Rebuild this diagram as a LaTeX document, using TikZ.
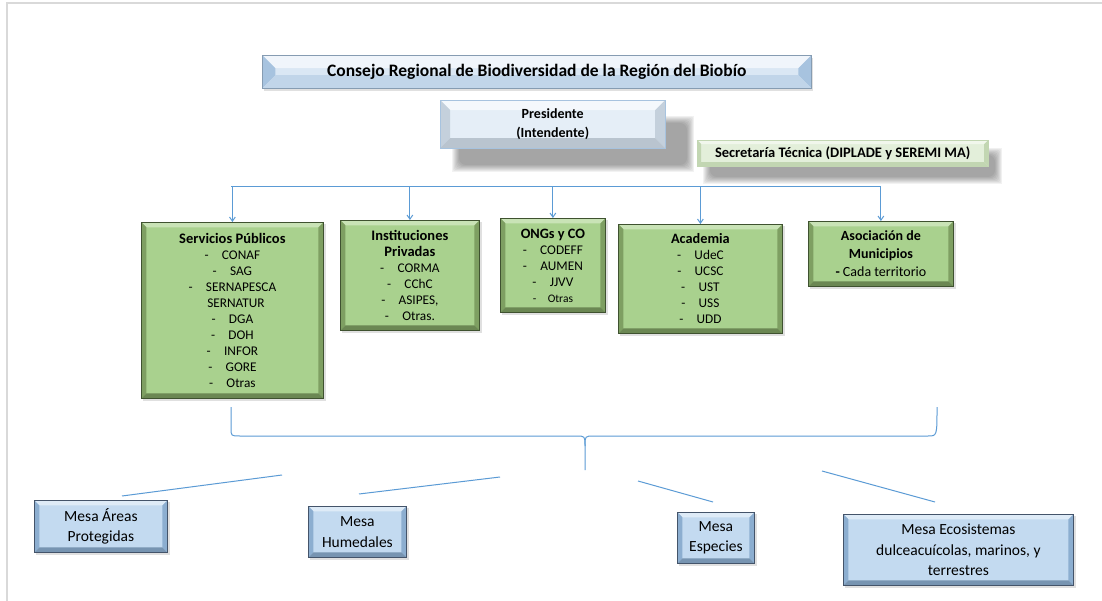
\documentclass[tikz,border=0pt]{standalone}
\usepackage{fontspec}
\setmainfont{Carlito}
\usetikzlibrary{arrows.meta,calc}
\definecolor{ln}{HTML}{5B9BD5}
\definecolor{gfill}{HTML}{A9D18E}
\definecolor{glight}{HTML}{C9E3B6}
\definecolor{gdark}{HTML}{7E9F62}
\definecolor{gborder}{HTML}{3F5230}
\definecolor{bfill}{HTML}{C3DAF0}
\definecolor{blight}{HTML}{DEEBF7}
\definecolor{bdark}{HTML}{8CAED0}
\definecolor{bborder}{HTML}{44546A}
\definecolor{tfill}{HTML}{DAE7F4}
\definecolor{tdark}{HTML}{A7C3DF}
\definecolor{sfill}{HTML}{E3EFDA}
\definecolor{sdark}{HTML}{C2D6B2}
\definecolor{frame}{HTML}{D9D9D9}
\def\bv{5pt}
\newcommand\fuzzyshadow[4]{%
  \foreach \i in {0,...,7}{%
    \fill[black,opacity=0.05,rounded corners=\i pt] ($(#1,#2)+(\i,\i)$) rectangle ($(#3,#4)-(\i,\i)$);}}
\tikzset{
  bvs/.code={\def\bv{#1}},
  bevel/.style n args={5}{fill=#1, draw=#4, line width=0.8pt, inner sep=0pt, align=center,
    path picture={
      \coordinate (bsw) at (path picture bounding box.south west);
      \coordinate (bne) at (path picture bounding box.north east);
      \coordinate (bnw) at (path picture bounding box.north west);
      \coordinate (bse) at (path picture bounding box.south east);
      \fill[#2] (bnw) -- (bne) -- ([shift={(-\bv,-\bv)}]bne) -- ([shift={(\bv,-\bv)}]bnw) -- cycle;
      \fill[#3] (bnw) -- ([shift={(\bv,-\bv)}]bnw) -- ([shift={(\bv,\bv)}]bsw) -- (bsw) -- cycle;
      \fill[#3] (bne) -- ([shift={(-\bv,-\bv)}]bne) -- ([shift={(-\bv,\bv)}]bse) -- (bse) -- cycle;
      \fill[#5] (bsw) -- ([shift={(\bv,\bv)}]bsw) -- ([shift={(-\bv,\bv)}]bse) -- (bse) -- cycle;
    }},
  gbox/.style={bevel={gfill}{glight}{gdark}{gborder}{gdark!85!black}, anchor=north west, font=\fontsize{13.3}{16}\selectfont},
  mbox/.style={bevel={bfill}{blight}{bdark}{bborder}{bdark!85!black}, anchor=north west, font=\fontsize{15.5}{20.5}\selectfont},
  conn/.style={draw=ln, line width=1pt},
  arr/.style={conn, -{Straight Barb[angle=70:5pt]}},
}
\begin{document}
\begin{tikzpicture}[x=1pt,y=-1pt]
\useasboundingbox (0,0) rectangle (1102,601);
\fill[white] (0,0) rectangle (1102,601);
\draw[frame, line width=2pt] (1102,3) -- (7,3) -- (7,601);

% shadows
\fuzzyshadow{452}{116}{694}{172}
\fuzzyshadow{703}{148}{1002}{184}
\fill[black,opacity=0.12] (264,58) rectangle (813,91);
\foreach \a/\b/\c/\d in {141/222/323/398, 340/220/479/330, 500/218/605/312, 618/224/782/333, 808/221/953/286,
  34/500/167/552, 308/506/406/557, 677/512/754/563, 843/514/1073/585}{
  \fill[black,opacity=0.12] (\a+2,\b+2) rectangle (\c+3,\d+3);}

% header boxes
\node[bevel={tfill}{tfill!40!white}{tdark}{tdark!80!black}{tdark!70!white}, bvs=13pt, line width=0.5pt, anchor=north west,
  minimum width=549, minimum height=33, font=\fontsize{17.5}{20}\bfseries\selectfont] (title) at (262,55)
  {Consejo Regional de Biodiversidad de la Región del Biobío};
\node[bevel={tfill!70!white}{tfill!30!white}{tfill!90!black}{tdark}{tfill!85!black}, bvs=10pt, line width=0.4pt, anchor=north west,
  minimum width=225, minimum height=48, font=\fontsize{14}{19}\bfseries\selectfont] (pres) at (440,100)
  {Presidente\\(Intendente)};
\node[bevel={sfill}{sfill!50!white}{sdark}{sdark}{sdark}, bvs=4pt, line width=0.4pt, anchor=north west,
  minimum width=291, minimum height=26, font=\fontsize{14.5}{16}\bfseries\selectfont] (sec) at (697,140)
  {Secretaría Técnica (DIPLADE y SEREMI MA)};

% green boxes
\node[gbox, minimum width=182, minimum height=176] (serv) at (141,222)
  {\textbf{\fontsize{14.5}{16}\selectfont Servicios Públicos}\\-\quad CONAF\\-\quad SAG\\-\quad SERNAPESCA\\\phantom{-\ }SERNATUR\\-\quad DGA\\-\quad DOH\\-\quad INFOR\\-\quad GORE\\-\quad Otras};
\node[gbox, minimum width=139, minimum height=110] (inst) at (340,220)
  {\textbf{\fontsize{14.5}{17}\selectfont Instituciones}\\\textbf{\fontsize{14.5}{17}\selectfont Privadas}\\-\quad CORMA\\-\quad CChC\\-\quad ASIPES,\\-\quad Otras.};
\node[gbox, minimum width=105, minimum height=94] (ongs) at (500,218)
  {\textbf{\fontsize{14.3}{16}\selectfont ONGs y CO}\\-\quad CODEFF\\-\quad AUMEN\\-\quad JJVV\\{\fontsize{11.5}{16}\selectfont -\quad Otras}};
\node[gbox, minimum width=164, minimum height=109] (acad) at (618,224)
  {\textbf{\fontsize{14.3}{16}\selectfont Academia}\\-\quad UdeC\\-\quad UCSC\\-\quad UST\\-\quad USS\\-\quad UDD};
\node[gbox, minimum width=145, minimum height=65, font=\fontsize{14}{18}\selectfont] (asoc) at (808,221)
  {\textbf{Asociación de}\\\textbf{Municipios}\\\textbf{-} Cada territorio};

% bus and arrows
\coordinate (busL) at (231,187);
\coordinate (busR) at (881,187);
\draw[conn] (busL) -- (busR);
\foreach \n in {serv,inst,ongs,acad,asoc}{\draw[arr] (\n.north |- busL) -- (\n.north);}

% brace
\coordinate (brL) at (231,407);
\coordinate (brR) at (937,407);
\coordinate (brM) at (585,470);
\draw[conn] (brL) -- (231,428) .. controls (231,436) .. (240,436) -- (576,436) .. controls (585,436) .. (585,446) -- (brM);
\draw[conn] (585,446) .. controls (585,436) .. (594,436) -- (928,436) .. controls (937,436) .. (brR);

% mesa boxes
\node[mbox, minimum width=133, minimum height=52] (m1) at (34,500) {Mesa Áreas\\Protegidas};
\node[mbox, minimum width=98, minimum height=51] (m2) at (308,506) {Mesa\\Humedales};
\node[mbox, minimum width=77, minimum height=51] (m3) at (677,512) {Mesa\\Especies};
\node[mbox, minimum width=230, minimum height=71] (m4) at (843,514) {Mesa Ecosistemas\\dulceacuícolas, marinos, y\\terrestres};

% lines to mesas
\coordinate (l1a) at (282,475); \coordinate (l1b) at (122,496);
\coordinate (l2a) at (500,477); \coordinate (l2b) at (359,494);
\coordinate (l3a) at (638,481); \coordinate (l3b) at (713,502);
\coordinate (l4a) at (822,471); \coordinate (l4b) at (935,502);
\draw[conn] (l1a) -- (l1b);
\draw[conn] (l2a) -- (l2b);
\draw[conn] (l3a) -- (l3b);
\draw[conn] (l4a) -- (l4b);
\end{tikzpicture}
\end{document}
